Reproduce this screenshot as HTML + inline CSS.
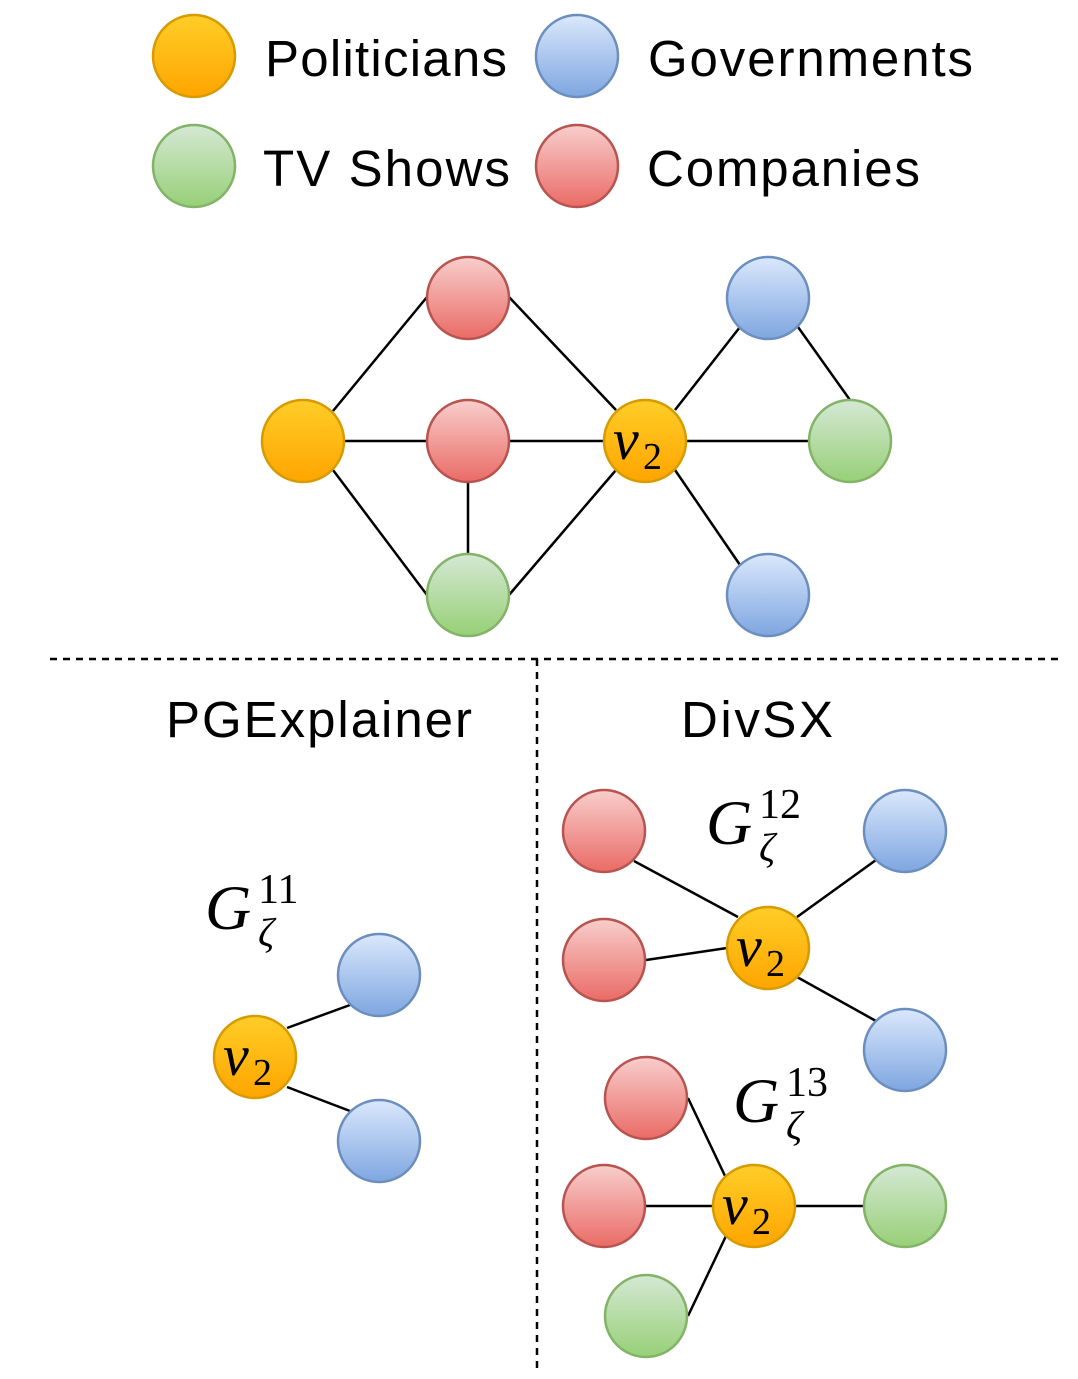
<!DOCTYPE html>
<html><head><meta charset="utf-8"><style>html,body{margin:0;padding:0;background:#fff}svg{display:block}</style></head>
<body>
<svg width="1078" height="1379" viewBox="0 0 1078 1379" xmlns="http://www.w3.org/2000/svg">
<defs>
<linearGradient id="go" x1="0" y1="0" x2="0" y2="1"><stop offset="0" stop-color="#ffcd28"/><stop offset="1" stop-color="#ffa500"/></linearGradient>
<linearGradient id="gb" x1="0" y1="0" x2="0" y2="1"><stop offset="0" stop-color="#dae8fc"/><stop offset="1" stop-color="#7ea6e0"/></linearGradient>
<linearGradient id="gg" x1="0" y1="0" x2="0" y2="1"><stop offset="0" stop-color="#d5e8d4"/><stop offset="1" stop-color="#97d077"/></linearGradient>
<linearGradient id="gr" x1="0" y1="0" x2="0" y2="1"><stop offset="0" stop-color="#f8cecc"/><stop offset="1" stop-color="#ea6b66"/></linearGradient>
</defs>
<style>
.o{fill:url(#go);stroke:#d79b00;stroke-width:2.5}
.b{fill:url(#gb);stroke:#6c8ebf;stroke-width:2.5}
.g{fill:url(#gg);stroke:#82b366;stroke-width:2.5}
.r{fill:url(#gr);stroke:#b85450;stroke-width:2.5}
.e{stroke:#000;stroke-width:2.5}
.t{font-family:"Liberation Sans",sans-serif;font-size:51px;fill:#000}
.m{font-family:"Liberation Serif",serif;font-style:italic;fill:#000}
.n{font-family:"Liberation Serif",serif;fill:#000}
</style>
<circle class="o" cx="194" cy="56" r="41"/>
<circle class="b" cx="577" cy="56" r="41"/>
<circle class="g" cx="194" cy="166" r="41"/>
<circle class="r" cx="577" cy="166" r="41"/>
<text class="t" x="265" y="76" textLength="242">Politicians</text>
<text class="t" x="648" y="76" textLength="325">Governments</text>
<text class="t" x="263" y="186" textLength="247">TV Shows</text>
<text class="t" x="647" y="186" textLength="273">Companies</text>
<g class="e">
<line x1="333" y1="411" x2="427" y2="297"/>
<line x1="303" y1="441" x2="468" y2="441"/>
<line x1="333" y1="470" x2="427" y2="595"/>
<line x1="509" y1="297" x2="616" y2="410"/>
<line x1="468" y1="441" x2="645" y2="441"/>
<line x1="468" y1="441" x2="468" y2="595"/>
<line x1="509" y1="595" x2="616" y2="470"/>
<line x1="675" y1="410" x2="740" y2="327"/>
<line x1="798" y1="327" x2="850" y2="400"/>
<line x1="645" y1="441" x2="850" y2="441"/>
<line x1="675" y1="470" x2="740" y2="565"/>
</g>
<circle class="r" cx="468" cy="298" r="41"/>
<circle class="o" cx="303" cy="441" r="41"/>
<circle class="r" cx="468" cy="441" r="41"/>
<circle class="g" cx="468" cy="595" r="41"/>
<circle class="o" cx="645" cy="441" r="41"/>
<circle class="b" cx="768" cy="298" r="41"/>
<circle class="g" cx="850" cy="441" r="41"/>
<circle class="b" cx="768" cy="595" r="41"/>
<text class="m" x="613" y="459" font-size="58">v</text><text class="n" x="643" y="469" font-size="38">2</text>
<line x1="50" y1="659" x2="1062" y2="659" stroke="#000" stroke-width="2.5" stroke-dasharray="7,6"/>
<line x1="537" y1="659" x2="537" y2="1370" stroke="#000" stroke-width="2.5" stroke-dasharray="7,6"/>
<text class="t" x="166" y="737" textLength="306">PGExplainer</text>
<text class="t" x="681" y="737" textLength="152">DivSX</text>
<g class="e">
<line x1="287" y1="1028" x2="350" y2="1005"/>
<line x1="287" y1="1087" x2="350" y2="1111"/>
</g>
<circle class="b" cx="379" cy="975" r="41"/>
<circle class="b" cx="379" cy="1141" r="41"/>
<circle class="o" cx="255" cy="1057" r="41"/>
<text class="m" x="223" y="1075" font-size="58">v</text><text class="n" x="253" y="1085" font-size="38">2</text>
<text class="m" x="205" y="929" font-size="64">G</text><text class="n" x="258" y="903" font-size="42">11</text><text class="m" x="258" y="946" font-size="40">ζ</text>
<g class="e">
<line x1="634" y1="861" x2="738" y2="917"/>
<line x1="646" y1="960" x2="727" y2="948"/>
<line x1="797" y1="917" x2="876" y2="860"/>
<line x1="797" y1="977" x2="876" y2="1021"/>
</g>
<circle class="r" cx="604" cy="831" r="41"/>
<circle class="r" cx="604" cy="960" r="41"/>
<circle class="b" cx="905" cy="831" r="41"/>
<circle class="b" cx="905" cy="1050" r="41"/>
<circle class="o" cx="768" cy="948" r="41"/>
<text class="m" x="736" y="966" font-size="58">v</text><text class="n" x="766" y="976" font-size="38">2</text>
<text class="m" x="706" y="844" font-size="64">G</text><text class="n" x="759" y="818" font-size="42">12</text><text class="m" x="759" y="861" font-size="40">ζ</text>
<g class="e">
<line x1="688" y1="1098" x2="726" y2="1178"/>
<line x1="604" y1="1206" x2="754" y2="1206"/>
<line x1="905" y1="1206" x2="754" y2="1206"/>
<line x1="688" y1="1316" x2="726" y2="1236"/>
</g>
<circle class="r" cx="646" cy="1098" r="41"/>
<circle class="r" cx="604" cy="1206" r="41"/>
<circle class="g" cx="905" cy="1206" r="41"/>
<circle class="g" cx="646" cy="1316" r="41"/>
<circle class="o" cx="754" cy="1206" r="41"/>
<text class="m" x="722" y="1224" font-size="58">v</text><text class="n" x="752" y="1234" font-size="38">2</text>
<text class="m" x="733" y="1122" font-size="64">G</text><text class="n" x="786" y="1096" font-size="42">13</text><text class="m" x="786" y="1139" font-size="40">ζ</text>
</svg>
</body></html>
